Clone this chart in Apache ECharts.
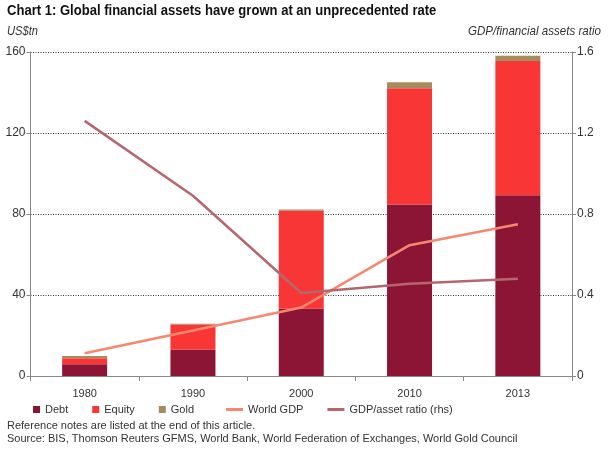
<!DOCTYPE html>
<html>
<head>
<meta charset="utf-8">
<script src="https://cdn.jsdelivr.net/npm/echarts@6/dist/echarts.min.js"></script>
<style>
html,body{margin:0;padding:0;background:#fff;}
#c{width:608px;height:450px;}
</style>
</head>
<body>
<div id="c"></div>
<script>
var categories = ['1980', '1990', '2000', '2010', '2013'];
var debt = [5.8, 13.1, 33.2, 84.7, 89.2];
var equity = [3.0, 12.2, 48.4, 57.4, 66.3];
var gold = [1.1, 0.5, 0.6, 3.0, 2.6];
var worldGDP = [11.2, 22.5, 33.8, 64.6, 74.9];
var gdpAssetRatio = [1.26, 0.89, 0.41, 0.455, 0.48];
var leftTicks = [0, 40, 80, 120, 160];
var rightTicks = [0, 0.4, 0.8, 1.2, 1.6];

var chart = echarts.init(document.getElementById('c'), null, {renderer: 'canvas'});
var lab = {color: '#333', fontFamily: 'Liberation Sans, sans-serif', fontSize: 12};
var option = {
  backgroundColor: '#fff',
  animation: false,
  graphic: [
    {type: 'text', x: 7, y: 3, scaleX: 0.87, style: {text: 'Chart 1: Global financial assets have grown at an unprecedented rate', font: 'bold 15px "Liberation Sans", sans-serif', fill: '#111'}},
    {type: 'text', x: 7, y: 25, scaleX: 0.86, style: {text: 'US$tn', font: 'italic 13px "Liberation Sans", sans-serif', fill: '#333'}},
    {type: 'text', x: 601, y: 25, scaleX: 0.89, style: {text: 'GDP/financial assets ratio', align: 'right', font: 'italic 13px "Liberation Sans", sans-serif', fill: '#333'}},
    {type: 'text', left: 7, top: 420, style: {text: 'Reference notes are listed at the end of this article.', font: '11px "Liberation Sans", sans-serif', fill: '#333'}},
    {type: 'text', left: 7, top: 433, style: {text: 'Source: BIS, Thomson Reuters GFMS, World Bank, World Federation of Exchanges, World Gold Council', font: '11px "Liberation Sans", sans-serif', fill: '#333'}}
  ],
  legend: [
    {
      left: 28, top: 399, itemWidth: 7, itemHeight: 7, itemGap: 24,
      textStyle: {fontFamily: 'Liberation Sans, sans-serif', fontSize: 11, color: '#333'},
      data: [{name: 'Debt', icon: 'rect'}, {name: 'Equity', icon: 'rect'}, {name: 'Gold', icon: 'rect'}]
    },
    {
      left: 221, top: 399, itemWidth: 17, itemHeight: 3, itemGap: 24,
      textStyle: {fontFamily: 'Liberation Sans, sans-serif', fontSize: 11, color: '#333'},
      data: [{name: 'World GDP', icon: 'rect'}, {name: 'GDP/asset ratio (rhs)', icon: 'rect'}]
    }
  ],
  grid: {left: 30.5, right: 36, top: 52, bottom: 74, containLabel: false},
  xAxis: {
    type: 'category', data: categories,
    axisLine: {lineStyle: {color: '#888', width: 1}},
    axisTick: {show: true, length: 5, lineStyle: {color: '#888'}},
    axisLabel: Object.assign({}, lab, {margin: 12, fontSize: 11})
  },
  yAxis: [
    {
      type: 'value', min: 0, max: 160, interval: 40,
      axisLine: {show: true, lineStyle: {color: '#888'}},
      axisTick: {show: true, length: 4, lineStyle: {color: '#888'}},
      axisLabel: Object.assign({margin: 5}, lab),
      splitLine: {show: true, lineStyle: {type: [1, 1.5], color: '#333', width: 1}}
    },
    {
      type: 'value', min: 0, max: 1.6, interval: 0.4,
      axisLine: {show: true, lineStyle: {color: '#888'}},
      axisTick: {show: true, length: 4, lineStyle: {color: '#888'}},
      axisLabel: Object.assign({margin: 5, formatter: function (v) { return String(+v.toFixed(1)); }}, lab),
      splitLine: {show: false}
    }
  ],
  series: [
    {name: 'Debt', type: 'bar', stack: 'a', barWidth: 45, data: debt, itemStyle: {color: '#8C1535'}},
    {name: 'Equity', type: 'bar', stack: 'a', barWidth: 45, data: equity, itemStyle: {color: '#F93636'}},
    {name: 'Gold', type: 'bar', stack: 'a', barWidth: 45, data: gold, itemStyle: {color: '#A68C5C'}},
    {name: 'World GDP', type: 'line', data: worldGDP, yAxisIndex: 0, showSymbol: false, symbol: 'none',
      lineStyle: {color: '#F8876F', width: 2.5}, itemStyle: {color: '#F8876F'}, z: 5},
    {name: 'GDP/asset ratio (rhs)', type: 'line', data: gdpAssetRatio, yAxisIndex: 1, showSymbol: false, symbol: 'none',
      lineStyle: {color: '#B5666E', width: 2.5}, itemStyle: {color: '#B5666E'}, z: 5}
  ]
};
chart.setOption(option);
</script>
</body>
</html>
